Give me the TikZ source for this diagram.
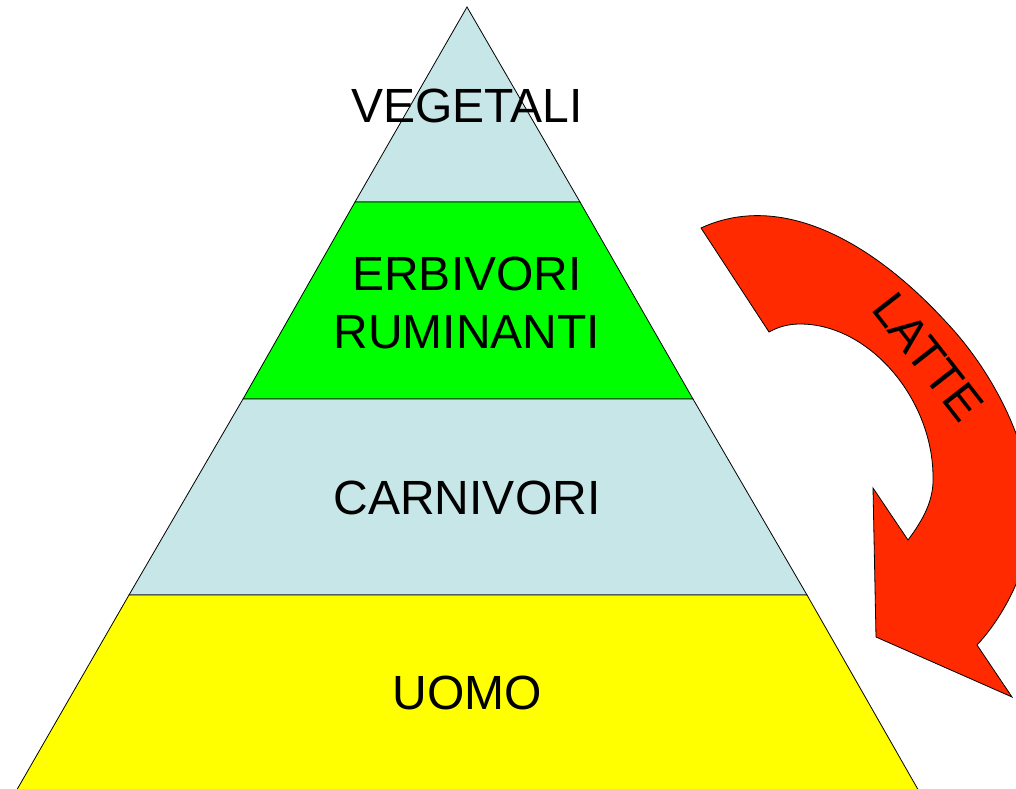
\documentclass[tikz,border=0pt]{standalone}
\usepackage{fontspec}
\setmainfont{Liberation Sans}
\usepackage{tikz}
\usetikzlibrary{positioning}
\definecolor{PaleBlue}{HTML}{C6E6E8}
\definecolor{LeafGreen}{HTML}{00FF00}
\definecolor{SunYellow}{HTML}{FFFF00}
\definecolor{MilkRed}{HTML}{FF2A00}

\tikzset{
  layer/.style={draw=black, line width=0.8bp},
  label/.style={font=\fontsize{48bp}{58bp}\selectfont, align=center, anchor=base}
}

\begin{document}
\begin{tikzpicture}[x=1bp, y=-1bp]
        \useasboundingbox (0,0) rectangle (1016,789);
        \clip (0,0) rectangle (1016,789);
        % Piramide
        \coordinate (apex) at (467,7);
        \filldraw[layer, fill=PaleBlue] (apex) -- (355,202) -- (580,202) -- cycle;
        \filldraw[layer, fill=LeafGreen] (355,202) -- (243,399) -- (693,399) -- (580,202) -- cycle;
        \filldraw[layer, fill=PaleBlue] (243,399) -- (129,595) -- (807,595) -- (693,399) -- cycle;
        \filldraw[layer, fill=SunYellow] (129,595) -- (11,800) -- (924,800) -- (807,595) -- cycle;
        \node[label] (vegetali) at (467,122) {VEGETALI};
        \node[label] (erbivori) at (467,348) {ERBIVORI\\RUMINANTI};
        \node[label] (carnivori) at (467,514) {CARNIVORI};
        \node[label] (uomo) at (467,709) {UOMO};
        % Freccia del latte
        \filldraw[layer, fill=MilkRed] (701,228)
          .. controls (781,191) and (872,241) .. (947,323)
          .. controls (992,371) and (1032,445) .. (1032,515)
          .. controls (1032,560) and (1007,613) .. (977,645)
          -- (1012,697) -- (876,637) -- (873,488) -- (908,540)
          .. controls (923,520) and (934,500) .. (933,477)
          .. controls (933,400) and (870,324) .. (800,324)
          .. controls (788,324) and (778,327) .. (769,332)
          -- cycle;
        \node[font=\fontsize{48bp}{58bp}\selectfont, rotate=-52] (latte) at (928,357) {LATTE};
      \end{tikzpicture}
\end{document}
